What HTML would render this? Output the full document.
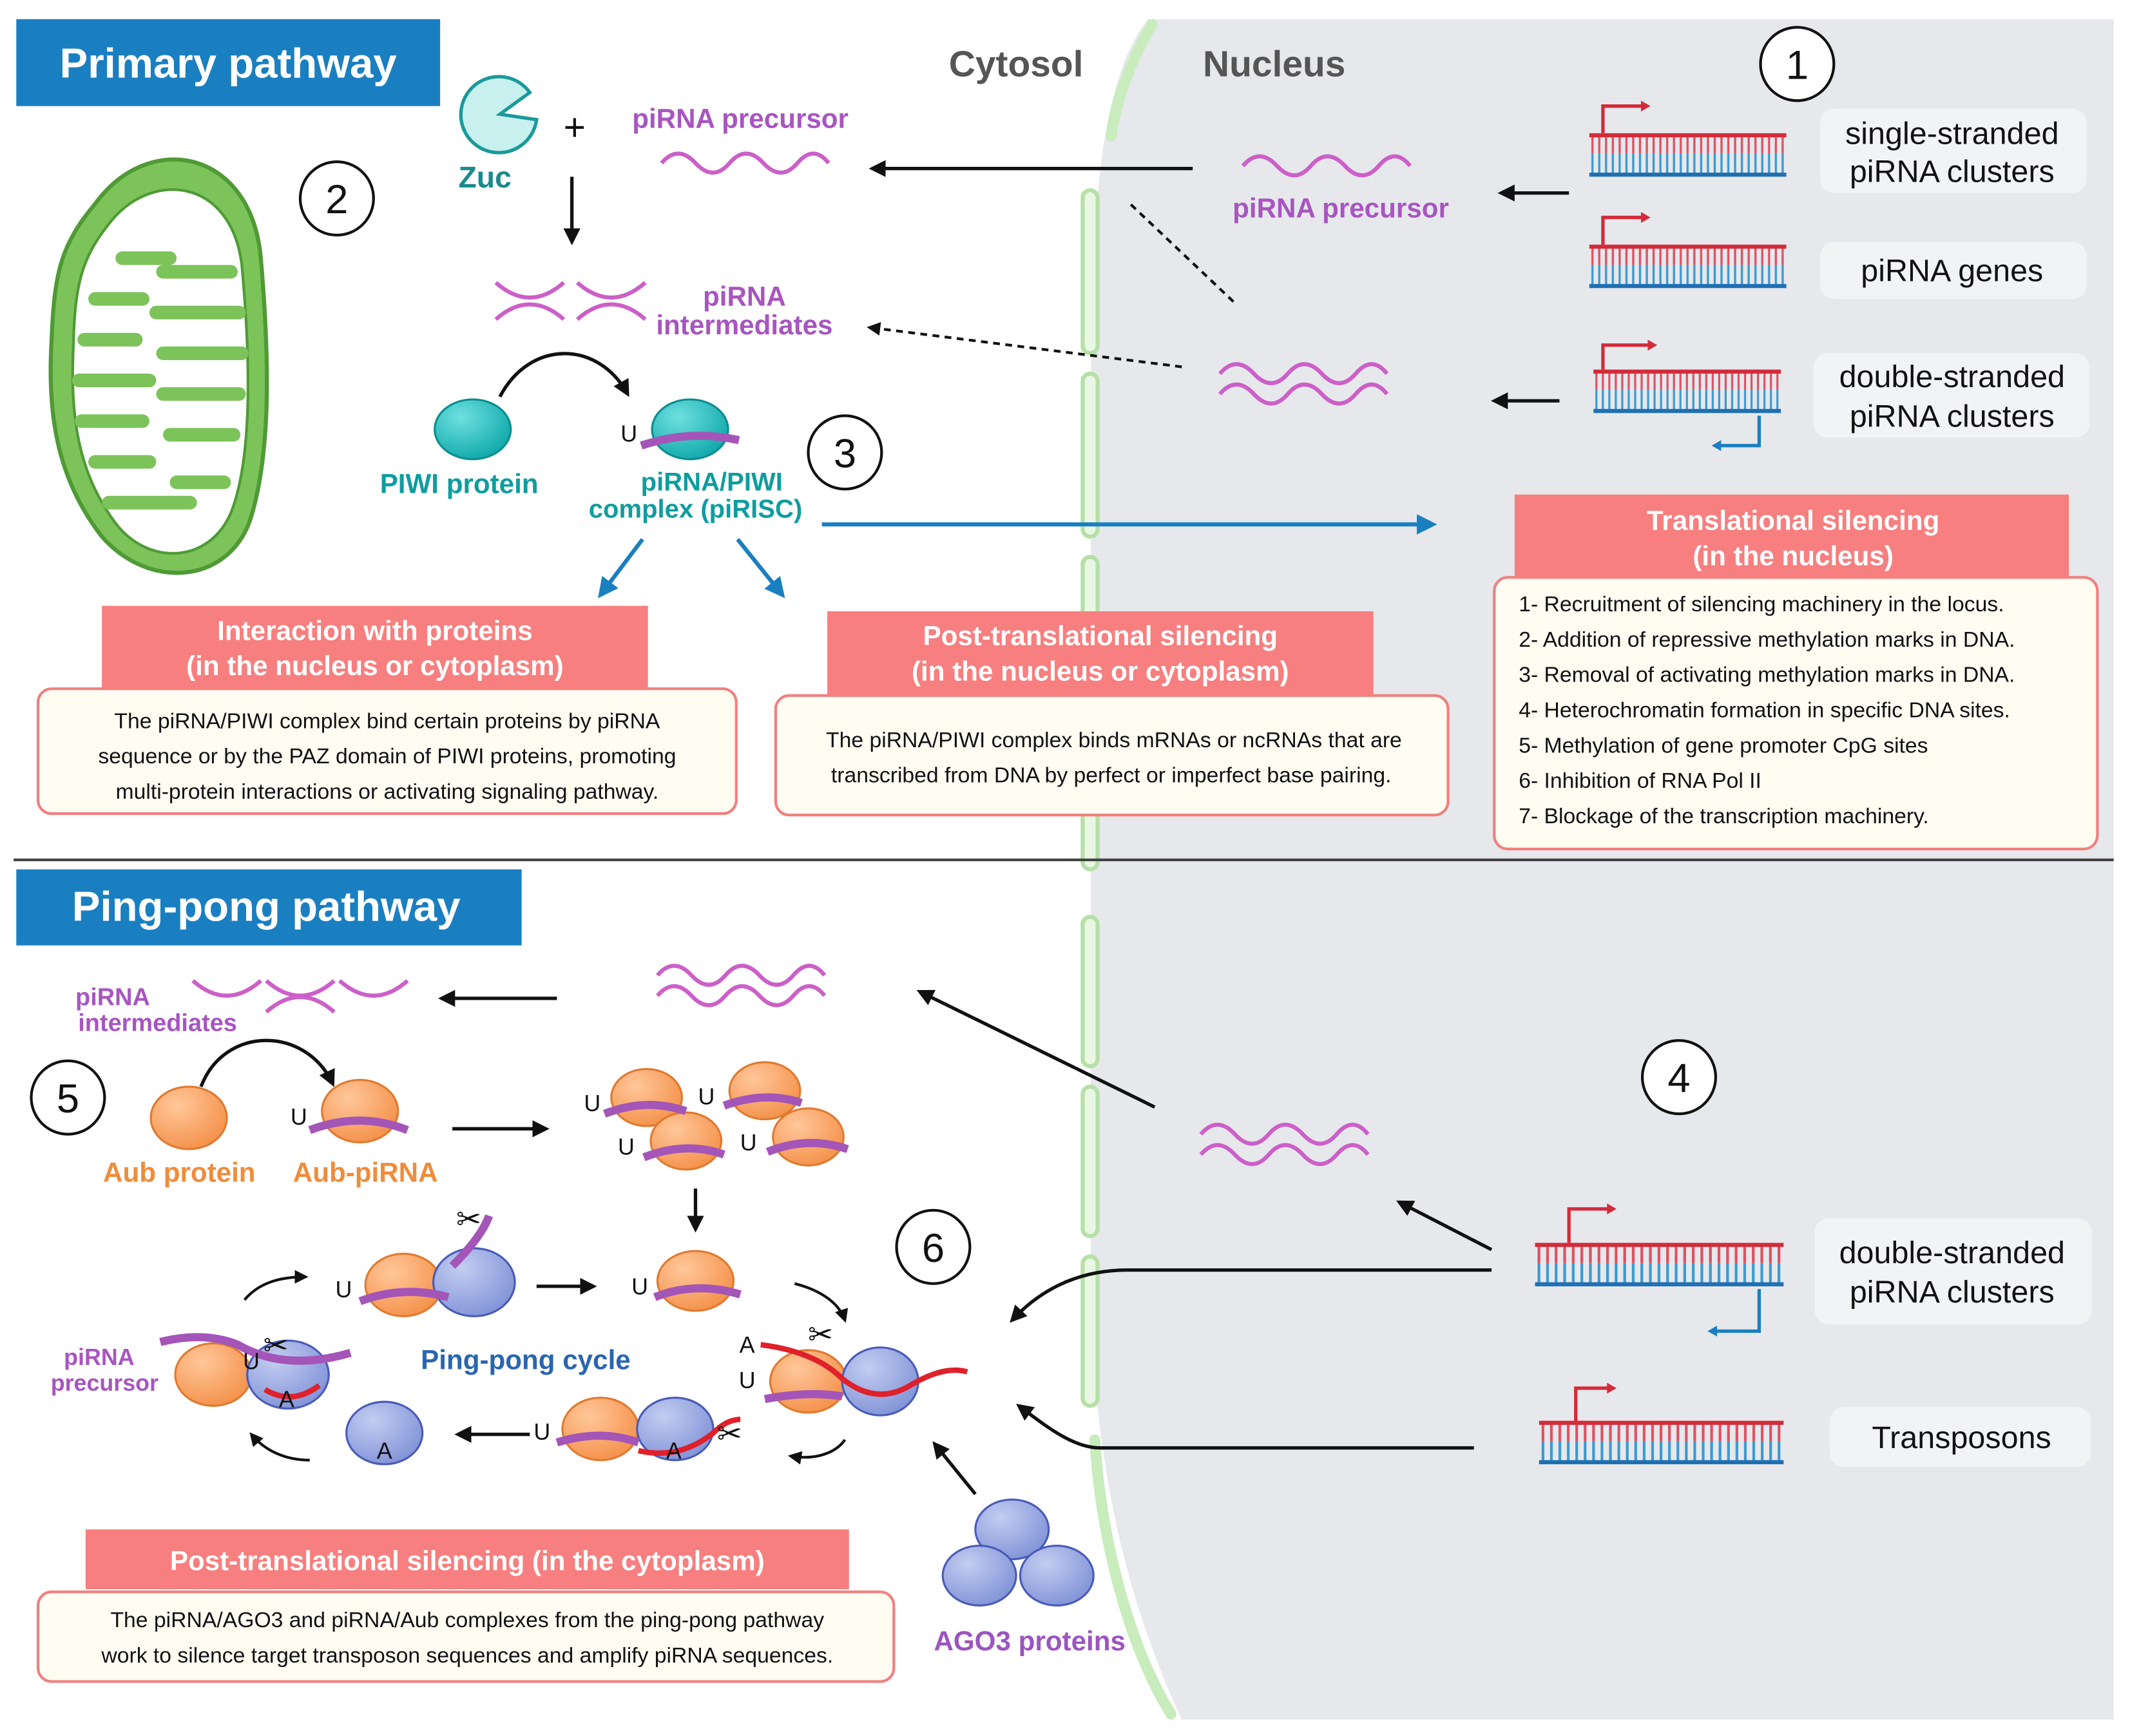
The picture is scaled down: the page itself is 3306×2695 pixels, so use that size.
<!DOCTYPE html>
<html><head><meta charset="utf-8"><style>
html,body{margin:0;padding:0;background:#fff;}
svg{display:block;}
text{font-family:"Liberation Sans",Arial,sans-serif;}
</style></head><body>
<svg width="3306" height="2695" viewBox="0 0 1568 1278" xmlns="http://www.w3.org/2000/svg">
<defs>
<radialGradient id="gT" cx="0.35" cy="0.3" r="0.75"><stop offset="0" stop-color="#6fe0e0"/><stop offset="1" stop-color="#0fa8aa"/></radialGradient>
<radialGradient id="gO" cx="0.35" cy="0.3" r="0.75"><stop offset="0" stop-color="#ffc79a"/><stop offset="1" stop-color="#f4914a"/></radialGradient>
<radialGradient id="gB" cx="0.35" cy="0.3" r="0.75"><stop offset="0" stop-color="#c3cdf0"/><stop offset="1" stop-color="#8193d8"/></radialGradient>
<pattern id="lad" width="5" height="30" patternUnits="userSpaceOnUse">
<rect x="1.5" y="0" width="1.6" height="15" fill="#e05060"/><rect x="1.5" y="15" width="1.6" height="15" fill="#3a9ad0"/></pattern>
<marker id="ah" viewBox="0 0 10 10" refX="8" refY="5" markerWidth="5" markerHeight="5" orient="auto"><path d="M0,0 L10,5 L0,10 z" fill="#111"/></marker>
<marker id="ahb" viewBox="0 0 10 10" refX="8" refY="5" markerWidth="5" markerHeight="5" orient="auto"><path d="M0,0 L10,5 L0,10 z" fill="#1a7fc1"/></marker>
<symbol id="dna" viewBox="0 0 145 34" preserveAspectRatio="none" overflow="visible">
<rect x="0" y="2" width="145" height="28" fill="url(#lad)"/>
<rect x="0" y="0" width="145" height="3" fill="#d42b3a"/>
<rect x="0" y="29" width="145" height="3" fill="#1f6fb3"/>
</symbol>
</defs>
<rect width="1568" height="1278" fill="#fff"/>
<path d="M815,14 L1556,14 L1556,1266 L870,1266 C830,1180 805,1080 803,950 L803,300 C803,150 810,60 845,14 Z" fill="#e6e8ec"/>
<g fill="#eaf7e4" stroke="#b6e0a6" stroke-width="3">
<path d="M848,18 C835,40 822,70 818,100" fill="none" stroke-width="8" stroke-linecap="round" stroke="#c8ecbc"/>
<rect x="797" y="140" width="11" height="120" rx="5.5"/>
<rect x="797" y="275" width="11" height="120" rx="5.5"/>
<rect x="797" y="410" width="11" height="120" rx="5.5"/>
<rect x="797" y="545" width="11" height="95" rx="5.5"/>
<rect x="797" y="675" width="11" height="110" rx="5.5"/>
<rect x="797" y="800" width="11" height="110" rx="5.5"/>
<rect x="797" y="925" width="11" height="110" rx="5.5"/>
<path d="M806,1060 C810,1130 830,1210 862,1262" fill="none" stroke-width="8" stroke-linecap="round" stroke="#c8ecbc"/>
</g>
<line x1="10" y1="633" x2="1556" y2="633" stroke="#444" stroke-width="2"/>
<rect x="12" y="14" width="312" height="64" fill="#1a7fc1"/>
<text x="168" y="57" font-size="31" font-weight="bold" fill="#fff" text-anchor="middle">Primary pathway</text>
<rect x="12" y="640" width="372" height="56" fill="#1a7fc1"/>
<text x="196" y="678" font-size="31" font-weight="bold" fill="#fff" text-anchor="middle">Ping-pong pathway</text>
<text x="748" y="56" font-size="27" font-weight="bold" fill="#555" text-anchor="middle">Cytosol</text>
<text x="938" y="56" font-size="27" font-weight="bold" fill="#555" text-anchor="middle">Nucleus</text>
<g fill="#fff" stroke="#111" stroke-width="2" font-size="30">
<circle cx="1323" cy="47" r="27"/><circle cx="248" cy="146" r="27"/><circle cx="622" cy="333" r="27"/>
<circle cx="1236" cy="793" r="27"/><circle cx="50" cy="808" r="27"/><circle cx="687" cy="918" r="27"/>
</g>
<g font-size="30" fill="#111" text-anchor="middle">
<text x="1323" y="58">1</text><text x="248" y="157">2</text><text x="622" y="344">3</text>
<text x="1236" y="804">4</text><text x="50" y="819">5</text><text x="687" y="929">6</text>
</g>
<path d="M70,150 C110,95 185,110 192,190 C198,260 200,330 185,380 C170,430 110,435 75,395 C40,350 35,300 38,250 C40,200 45,180 70,150 Z" fill="#7cc35a" stroke="#4f9a35" stroke-width="3"/>
<path d="M80,165 C110,125 170,130 178,195 C184,260 186,330 172,372 C158,415 110,418 85,385 C55,345 52,300 54,255 C55,210 60,190 80,165 Z" fill="#fff" stroke="#4f9a35" stroke-width="2"/>
<path d="M62,250 L100,250 M58,280 L110,280 M60,310 L105,310 M70,340 L110,340 M170,200 L120,200 M176,230 L115,230 M178,260 L120,260 M176,290 L120,290 M172,320 L125,320 M165,355 L130,355 M90,190 L125,190 M70,220 L105,220 M80,370 L140,370" stroke="#7cc35a" stroke-width="10" stroke-linecap="round"/>
<path d="M395,88 A28,28 0 1,1 390,68 L368,84 Z" fill="#c8f0ee" stroke="#1a9a9a" stroke-width="2.5"/>
<text x="357" y="138" font-size="22" font-weight="bold" fill="#1a8a8a" text-anchor="middle">Zuc</text>
<text x="423" y="103" font-size="28" fill="#111" text-anchor="middle">+</text>
<text x="545" y="94" font-size="20" font-weight="bold" fill="#a855c0" text-anchor="middle">piRNA precursor</text>
<g fill="none" stroke="#cc5fc8" stroke-width="3">
<path d="M487,120 q12,-14 25,0 t25,0 t25,0 t25,0 t23,0"/>
<path d="M915,122 q12,-14 25,0 t25,0 t25,0 t25,0 t23,0"/>
<path d="M898,275 q12,-14 25,0 t25,0 t25,0 t25,0 t23,0"/><path d="M898,290 q12,-14 25,0 t25,0 t25,0 t25,0 t23,0"/>
<path d="M365,208 q25,22 50,0 M425,208 q25,22 50,0 M365,235 q25,-22 50,0 M425,235 q25,-22 50,0"/>
<path d="M484,718 q12,-14 25,0 t25,0 t25,0 t25,0 t23,0"/><path d="M484,733 q12,-14 25,0 t25,0 t25,0 t25,0 t23,0"/>
<path d="M884,835 q12,-14 25,0 t25,0 t25,0 t25,0 t23,0"/><path d="M884,850 q12,-14 25,0 t25,0 t25,0 t25,0 t23,0"/>
<path d="M142,722 q25,22 50,0 M196,722 q25,22 50,0 M250,722 q25,22 50,0 M196,745 q25,-22 50,0"/>
</g>
<text x="987" y="160" font-size="20" font-weight="bold" fill="#a855c0" text-anchor="middle">piRNA precursor</text>
<text x="548" y="225" font-size="20" font-weight="bold" fill="#a855c0" text-anchor="middle">piRNA</text>
<text x="548" y="246" font-size="20" font-weight="bold" fill="#a855c0" text-anchor="middle">intermediates</text>
<text x="83" y="740" font-size="18" font-weight="bold" fill="#a855c0" text-anchor="middle">piRNA</text>
<text x="116" y="759" font-size="18" font-weight="bold" fill="#a855c0" text-anchor="middle">intermediates</text>
<text x="73" y="1005" font-size="17" font-weight="bold" fill="#a855c0" text-anchor="middle">piRNA</text>
<text x="77" y="1024" font-size="17" font-weight="bold" fill="#a855c0" text-anchor="middle">precursor</text>
<g stroke="#111" stroke-width="2.5" fill="none" marker-end="url(#ah)">
<line x1="878" y1="124" x2="642" y2="124"/>
<line x1="421" y1="130" x2="421" y2="178"/>
<line x1="1155" y1="142" x2="1105" y2="142"/>
<line x1="1148" y1="295" x2="1100" y2="295"/>
<path d="M368,292 C390,250 440,250 462,290"/>
<line x1="410" y1="735" x2="325" y2="735"/>
<line x1="333" y1="831" x2="402" y2="831"/>
<line x1="850" y1="815" x2="677" y2="730"/>
<line x1="1098" y1="920" x2="1030" y2="885"/>
<path d="M1098,935 L830,935 C800,935 770,945 745,972"/>
<path d="M1085,1066 L810,1066 C790,1066 770,1050 750,1035"/>
<line x1="718" y1="1100" x2="688" y2="1063"/>
<line x1="512" y1="875" x2="512" y2="905"/>
<path d="M148,800 C165,755 225,755 245,798"/>
<line x1="395" y1="947" x2="437" y2="947"/>
<line x1="390" y1="1056" x2="337" y2="1056"/>
</g>
<g stroke="#111" stroke-width="2" fill="none" marker-end="url(#ah)">
<path d="M180,957 C190,945 205,940 225,940"/>
<path d="M228,1075 C210,1075 195,1068 185,1056"/>
<path d="M585,945 C605,950 618,960 622,972"/>
<path d="M622,1060 C615,1070 600,1075 582,1072"/>
</g>
<g stroke="#111" stroke-width="2" stroke-dasharray="5,4" fill="none" marker-end="url(#ah)">
<line x1="908" y1="222" x2="832" y2="150" marker-end="none"/>
<line x1="870" y1="270" x2="640" y2="241"/>
</g>
<g stroke="#1a7fc1" stroke-width="3" fill="none" marker-end="url(#ahb)">
<line x1="605" y1="386" x2="1055" y2="386"/>
<line x1="473" y1="397" x2="442" y2="438"/>
<line x1="543" y1="397" x2="576" y2="438"/>
</g>
<ellipse cx="348" cy="316" rx="28" ry="22" fill="url(#gT)" stroke="#0c8d8f" stroke-width="1.5"/>
<text x="338" y="363" font-size="20" font-weight="bold" fill="#0e9d9f" text-anchor="middle">PIWI protein</text>
<ellipse cx="508" cy="316" rx="28" ry="22" fill="url(#gT)" stroke="#0c8d8f" stroke-width="1.5"/>
<path d="M472,328 Q508,316 544,324" stroke="#a455b8" stroke-width="6" fill="none"/>
<text x="463" y="325" font-size="17" fill="#111" text-anchor="middle">U</text>
<text x="524" y="361" font-size="19" font-weight="bold" fill="#0e9d9f" text-anchor="middle">piRNA/PIWI</text>
<text x="512" y="381" font-size="19" font-weight="bold" fill="#0e9d9f" text-anchor="middle">complex (piRISC)</text>
<use href="#dna" x="1170" y="98" width="145" height="34"/>
<use href="#dna" x="1170" y="180" width="145" height="34"/>
<use href="#dna" x="1173" y="272" width="138" height="34"/>
<use href="#dna" x="1130" y="915" width="183" height="34"/>
<use href="#dna" x="1133" y="1046" width="180" height="34"/>
<g stroke="#d42b3a" stroke-width="2.5" fill="none">
<path d="M1180,98 V78 H1210"/><path d="M1180,180 V160 H1210"/><path d="M1180,272 V254 H1215"/>
<path d="M1155,915 V890 H1185"/><path d="M1160,1046 V1022 H1185"/>
</g>
<path d="M1208,74 l7,4 l-7,4z M1208,156 l7,4 l-7,4z M1213,250 l7,4 l-7,4z M1183,886 l7,4 l-7,4z M1183,1018 l7,4 l-7,4z" fill="#d42b3a"/>
<g stroke="#1a7fc1" stroke-width="2.5" fill="none"><path d="M1295,306 V328 H1265"/><path d="M1295,949 V980 H1262"/></g>
<path d="M1267,324 l-7,4 l7,4z M1264,976 l-7,4 l7,4z" fill="#1a7fc1"/>
<g fill="#f2f3f5">
<rect x="1340" y="80" width="196" height="62" rx="10"/><rect x="1340" y="178" width="196" height="42" rx="10"/>
<rect x="1335" y="260" width="203" height="62" rx="10"/><rect x="1336" y="897" width="204" height="78" rx="10"/>
<rect x="1347" y="1036" width="192" height="44" rx="10"/>
</g>
<g font-size="23" fill="#111" text-anchor="middle">
<text x="1437" y="106">single-stranded</text><text x="1437" y="134">piRNA clusters</text>
<text x="1437" y="207">piRNA genes</text>
<text x="1437" y="285">double-stranded</text><text x="1437" y="314">piRNA clusters</text>
<text x="1437" y="930">double-stranded</text><text x="1437" y="959">piRNA clusters</text>
<text x="1444" y="1066">Transposons</text>
</g>
<rect x="1100" y="425" width="444" height="200" rx="10" fill="#fffcf2" stroke="#f08080" stroke-width="2"/>
<rect x="1115" y="364" width="408" height="62" fill="#f77f7f"/>
<text x="1320" y="390" font-size="20" font-weight="bold" fill="#fff" text-anchor="middle">Translational silencing</text>
<text x="1320" y="416" font-size="20" font-weight="bold" fill="#fff" text-anchor="middle">(in the nucleus)</text>
<g font-size="16" fill="#111">
<text x="1118" y="450">1- Recruitment of silencing machinery in the locus.</text>
<text x="1118" y="476">2- Addition of repressive methylation marks in DNA.</text>
<text x="1118" y="502">3- Removal of activating methylation marks in DNA.</text>
<text x="1118" y="528">4- Heterochromatin formation in specific DNA sites.</text>
<text x="1118" y="554">5- Methylation of gene promoter CpG sites</text>
<text x="1118" y="580">6- Inhibition of RNA Pol II</text>
<text x="1118" y="606">7- Blockage of the transcription machinery.</text>
</g>
<rect x="28" y="507" width="514" height="92" rx="10" fill="#fffcf2" stroke="#f08080" stroke-width="2"/>
<rect x="75" y="446" width="402" height="62" fill="#f77f7f"/>
<text x="276" y="471" font-size="20" font-weight="bold" fill="#fff" text-anchor="middle">Interaction with proteins</text>
<text x="276" y="497" font-size="20" font-weight="bold" fill="#fff" text-anchor="middle">(in the nucleus or cytoplasm)</text>
<g font-size="16" fill="#111" text-anchor="middle">
<text x="285" y="536">The piRNA/PIWI complex  bind certain proteins by piRNA</text>
<text x="285" y="562">sequence or by the PAZ domain of PIWI proteins, promoting</text>
<text x="285" y="588">multi-protein interactions or activating signaling pathway.</text>
</g>
<rect x="571" y="512" width="495" height="88" rx="10" fill="#fffcf2" stroke="#f08080" stroke-width="2"/>
<rect x="609" y="450" width="402" height="62" fill="#f77f7f"/>
<text x="810" y="475" font-size="20" font-weight="bold" fill="#fff" text-anchor="middle">Post-translational silencing</text>
<text x="810" y="501" font-size="20" font-weight="bold" fill="#fff" text-anchor="middle">(in the nucleus or cytoplasm)</text>
<g font-size="16" fill="#111" text-anchor="middle">
<text x="820" y="550">The piRNA/PIWI complex binds mRNAs or ncRNAs that are</text>
<text x="818" y="576">transcribed from DNA by perfect or imperfect base pairing.</text>
</g>
<rect x="28" y="1172" width="630" height="66" rx="10" fill="#fffcf2" stroke="#f08080" stroke-width="2"/>
<rect x="63" y="1126" width="562" height="44" fill="#f77f7f"/>
<text x="344" y="1156" font-size="20" font-weight="bold" fill="#fff" text-anchor="middle">Post-translational silencing  (in the cytoplasm)</text>
<g font-size="16" fill="#111" text-anchor="middle">
<text x="344" y="1198">The piRNA/AGO3 and piRNA/Aub complexes from the ping-pong pathway</text>
<text x="344" y="1224">work to silence target transposon sequences and amplify piRNA sequences.</text>
</g>
<g stroke="#e07a30" stroke-width="1.5" fill="url(#gO)">
<ellipse cx="139" cy="823" rx="28" ry="23"/><ellipse cx="265" cy="818" rx="28" ry="23"/>
<ellipse cx="476" cy="808" rx="26" ry="21"/><ellipse cx="563" cy="803" rx="26" ry="21"/>
<ellipse cx="505" cy="840" rx="26" ry="21"/><ellipse cx="595" cy="837" rx="26" ry="21"/>
<ellipse cx="512" cy="943" rx="28" ry="22"/>
<ellipse cx="297" cy="946" rx="28" ry="23"/>
<ellipse cx="157" cy="1012" rx="28" ry="23"/>
<ellipse cx="442" cy="1052" rx="28" ry="23"/>
<ellipse cx="595" cy="1017" rx="28" ry="23"/>
</g>
<g stroke="#4a5bb8" stroke-width="1.5" fill="url(#gB)">
<ellipse cx="349" cy="944" rx="30" ry="25"/>
<ellipse cx="212" cy="1012" rx="30" ry="25"/>
<ellipse cx="283" cy="1055" rx="28" ry="23"/>
<ellipse cx="497" cy="1052" rx="28" ry="23"/>
<ellipse cx="648" cy="1017" rx="28" ry="25"/>
<ellipse cx="745" cy="1126" rx="27" ry="22"/>
<ellipse cx="721" cy="1160" rx="27" ry="22"/><ellipse cx="778" cy="1160" rx="27" ry="22"/>
</g>
<g stroke="#a455b8" stroke-width="6" fill="none">
<path d="M228,832 Q265,818 300,832"/>
<path d="M445,820 Q476,808 505,818 M533,814 Q563,803 590,812 M474,852 Q505,840 533,850 M565,848 Q595,836 624,846"/>
<path d="M482,955 Q512,943 545,953"/>
<path d="M265,958 Q297,946 330,955"/>
<path d="M333,932 Q355,910 360,895"/>
<path d="M118,988 Q150,980 175,990 Q210,1010 258,996"/>
<path d="M410,1062 Q442,1052 470,1062"/>
<path d="M563,1030 Q595,1024 620,1028"/>
</g>
<g stroke="#e0202a" stroke-width="4" fill="none">
<path d="M195,1023 Q215,1035 235,1020"/>
<path d="M470,1068 Q500,1075 525,1055 Q535,1045 545,1045"/>
<path d="M560,990 Q600,995 620,1015 Q645,1035 670,1020 Q695,1005 712,1010"/>
</g>
<g font-size="17" fill="#111" text-anchor="middle">
<text x="220" y="828">U</text><text x="436" y="818">U</text><text x="520" y="813">U</text><text x="461" y="850">U</text><text x="551" y="847">U</text>
<text x="471" y="953">U</text><text x="253" y="955">U</text><text x="185" y="1008">U</text><text x="211" y="1036">A</text>
<text x="283" y="1074">A</text><text x="399" y="1060">U</text><text x="496" y="1074">A</text>
<text x="550" y="996">A</text><text x="550" y="1022">U</text>
</g>
<g font-size="22" fill="#111" text-anchor="middle"><text x="345" y="905">✂</text><text x="203" y="998">✂</text><text x="537" y="1063">✂</text><text x="604" y="990">✂</text></g>
<text x="132" y="870" font-size="20" font-weight="bold" fill="#f08c3a" text-anchor="middle">Aub  protein</text>
<text x="269" y="870" font-size="20" font-weight="bold" fill="#f08c3a" text-anchor="middle">Aub-piRNA</text>
<text x="387" y="1008" font-size="20" font-weight="bold" fill="#2a66b0" text-anchor="middle">Ping-pong cycle</text>
<text x="758" y="1215" font-size="20" font-weight="bold" fill="#9b55c0" text-anchor="middle">AGO3  proteins</text>
</svg>
</body></html>
